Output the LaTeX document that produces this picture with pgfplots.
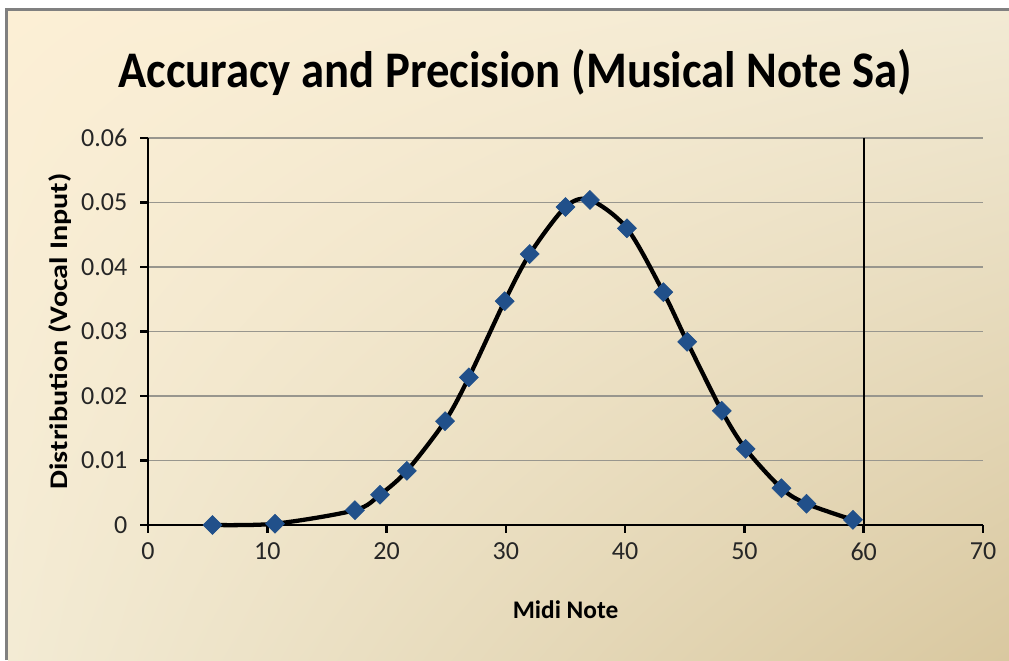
\documentclass[border=0pt]{standalone}
\usepackage{fontspec}
\setmainfont{Carlito}
\usepackage{pgfplots}
\pgfplotsset{compat=1.18}
\usetikzlibrary{shadings}
\definecolor{bgul}{HTML}{FCEFD5}
\definecolor{bgur}{HTML}{F2EAD4}
\definecolor{bgll}{HTML}{F3EBD4}
\definecolor{bglr}{HTML}{D9C8A0}
\definecolor{markblue}{HTML}{21508A}
\definecolor{gridgray}{HTML}{98968E}
\begin{document}
\begin{tikzpicture}[x=0.75pt,y=0.75pt]
 \fill[white] (0,0) rectangle (1009,660);
 \shade[upper left=bgul, upper right=bgur, lower left=bgll, lower right=bglr]
  (8,0) rectangle (1009,650);
 \draw[gray, line width=2.2pt] (6.5,0) -- (6.5,650.5) -- (1009,650.5);
 \node[font=\bfseries\fontsize{38.5}{46}\selectfont, xscale=0.91] at (515,588)
  {Accuracy and Precision (Musical Note Sa)};
 \begin{axis}[
  at={(111pt,101.25pt)},
  anchor=south west,
  scale only axis,
  width=626.25pt,
  height=290.25pt,
  xmin=0, xmax=70,
  ymin=0, ymax=0.06,
  axis x line*=bottom,
  axis y line*=left,
  axis line style={line width=2pt},
  xtick={0,10,...,70},
  ytick={0,0.01,0.02,0.03,0.04,0.05,0.06},
  yticklabels={0,0.01,0.02,0.03,0.04,0.05,0.06},
  scaled y ticks=false,
  tick align=outside,
  major tick length=6pt,
  tick style={line width=2pt, black},
  ymajorgrids,
  grid style={gridgray, line width=1.3pt},
  tick label style={font=\fontsize{19.5}{21}\selectfont, text=black!85},
  /pgf/number format/assume math mode=true,
  xticklabel style={yshift=-4pt},
  yticklabel style={xshift=-6pt},
  xlabel={Midi Note},
  ylabel={Distribution (Vocal Input)},
  label style={font=\bfseries\fontsize{19}{21}\selectfont},
  xlabel style={at={(axis description cs:0.5,-0.22)}, anchor=center},
  ylabel style={at={(axis description cs:-0.105,0.5)}, anchor=center, xscale=1.19},
  clip=false]
  \addplot[black, line width=1.2pt] coordinates {(60,0) (60,0.06)};
  \addplot[black, line width=3.2pt, smooth, tension=0.5,
   mark=square*, mark size=5pt,
   mark options={markblue, rotate=45, line width=0.5pt}] coordinates {
   (5.4,0) (10.65,0.0002) (17.35,0.0023) (19.45,0.0047) (21.7,0.0084)
   (24.9,0.0161) (26.9,0.0229) (29.9,0.0347) (32.0,0.0420) (35.0,0.0493)
   (37.05,0.0504) (40.15,0.0460) (43.2,0.0361) (45.2,0.0284) (48.1,0.0177)
   (50.1,0.0118) (53.1,0.0057) (55.2,0.0033) (59.1,0.0008)};
 \end{axis}
 \pgfresetboundingbox
 \useasboundingbox (0,0) rectangle (1009,660);
\end{tikzpicture}
\end{document}
